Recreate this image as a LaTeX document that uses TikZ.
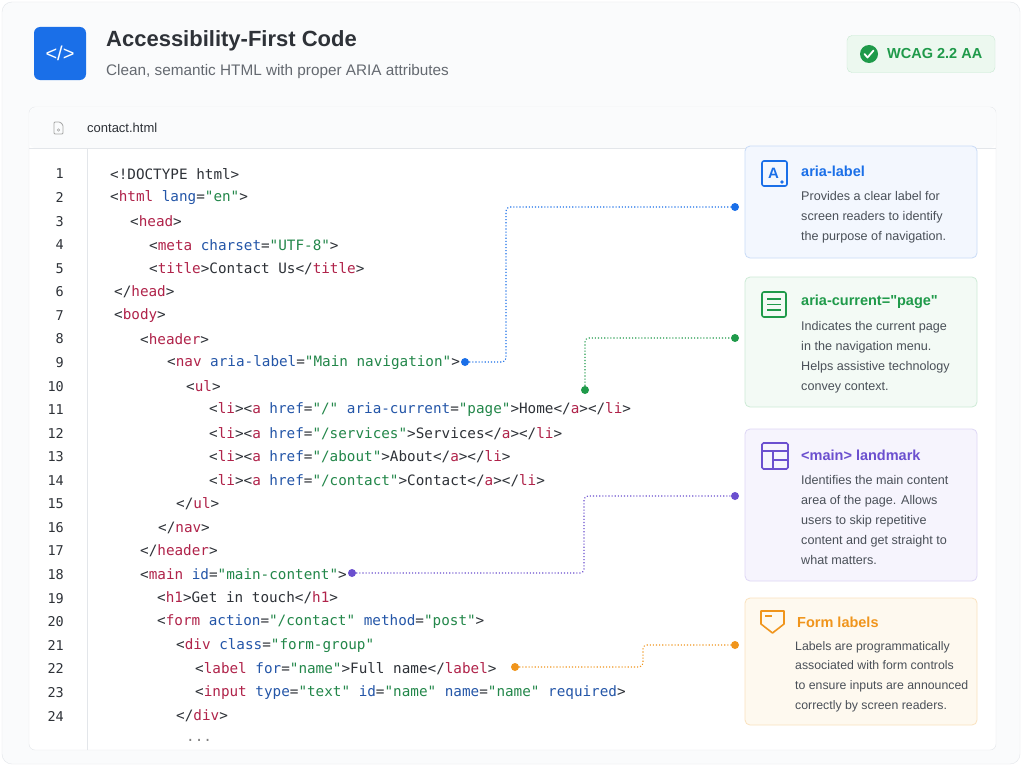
\documentclass[tikz,border=0pt]{standalone}
\usepackage{fontspec}
\setmainfont{Liberation Sans}
\setmonofont{DejaVu Sans Mono}
\begin{document}
\definecolor{cblue}{HTML}{1A6FE8}
\definecolor{cgreen}{HTML}{1F9A4A}
\definecolor{cpurple}{HTML}{6B4FCF}
\definecolor{corange}{HTML}{F0951C}
\definecolor{ctag}{HTML}{B0234A}
\definecolor{cattr}{HTML}{2456A8}
\definecolor{cstr}{HTML}{23874A}
\definecolor{ctext}{HTML}{2E3238}
\definecolor{cbody}{HTML}{4A5058}
\definecolor{cborder}{HTML}{E3E6EA}
\definecolor{cbg}{HTML}{FAFBFC}
\definecolor{csub}{HTML}{646970}
\definecolor{bgbadge}{HTML}{ECF8EF}
\definecolor{bdbadge}{HTML}{C8E8D2}
\definecolor{bd1}{HTML}{C9DBF7}\definecolor{bg1}{HTML}{F3F7FE}
\definecolor{bd2}{HTML}{CDEBD6}\definecolor{bg2}{HTML}{F3FAF5}
\definecolor{bd3}{HTML}{DED7F5}\definecolor{bg3}{HTML}{F6F4FD}
\definecolor{bd4}{HTML}{FAE2BE}\definecolor{bg4}{HTML}{FEF9EF}
\newcommand{\tg}[1]{\textcolor{ctag}{#1}}
\newcommand{\at}[1]{\textcolor{cattr}{#1}}
\newcommand{\st}[1]{\textcolor{cstr}{#1}}
\begin{tikzpicture}[x=1pt,y=-1pt,
  code/.style={anchor=west,inner sep=0pt,font=\ttfamily\fontsize{14.3}{15}\selectfont,text=ctext},
  num/.style={anchor=east,inner sep=0pt,font=\ttfamily\fontsize{13.5}{14}\selectfont,text=ctext},
  card/.style={rounded corners=5pt,line width=0.8pt},
  ctitle/.style={anchor=west,inner sep=0pt,font=\bfseries\fontsize{14.5}{16}\selectfont},
  cbodyt/.style={anchor=north west,inner sep=0pt,align=left,text=cbody,font=\fontsize{12.6}{20}\selectfont},
  conn/.style={line width=1.1pt,dotted,rounded corners=4pt},
  dot/.style={circle,fill,inner sep=0pt,minimum size=8pt}]
\useasboundingbox (0,0) rectangle (1024,768);
\fill[white] (0,0) rectangle (1024,768);
\draw[cborder,fill=cbg,rounded corners=10pt] (2,2) rectangle (1020,764);
% header
\node[fill=cblue,rounded corners=6pt,minimum width=52pt,minimum height=53pt,text=white,font=\fontsize{20}{20}\selectfont] (logo) at (60,53.5) {</>};
\node[anchor=west,inner sep=0pt,font=\bfseries\fontsize{22}{22}\selectfont,text=ctext] (title) at (106,41) {Accessibility-First Code};
\node[anchor=west,inner sep=0pt,font=\fontsize{15.3}{16}\selectfont,text=csub] (sub) at (106,72) {Clean, semantic HTML with proper ARIA attributes};
\node[draw=bdbadge,fill=bgbadge,rounded corners=5pt,minimum width=148pt,minimum height=37pt] (badge) at (921,54) {};
\node[circle,fill=cgreen,minimum size=18pt,inner sep=0pt] (chk) at (869,54) {};
\draw[white,line width=1.8pt,line cap=round,line join=round] (864.5,54) -- (867.5,57.5) -- (873.5,50.5);
\node[anchor=west,inner sep=0pt,font=\bfseries\fontsize{14.5}{15}\selectfont,text=cgreen] (wcag) at (887,54) {WCAG 2.2 AA};
% code card
\draw[cborder,fill=white,rounded corners=6pt] (29,107) rectangle (996,750);
\fill[cbg,rounded corners=6pt] (29.5,107.5) rectangle (995.5,148);
\draw[cborder] (29,148) -- (996,148);
\draw[cborder] (87,148) -- (87,750);
\draw[gray!70,line width=0.8pt,rounded corners=1pt] (54,122) -- (54,134) -- (63,134) -- (63,125) -- (60,122) -- cycle;
\draw[gray!70,line width=0.6pt] (58.5,130) circle (1.2pt);
\node[anchor=west,inner sep=0pt,font=\fontsize{13}{14}\selectfont,text=ctext] (fname) at (87,128) {contact.html};
% line numbers
\foreach \n in {1,...,24}{\node[num] (n\n) at (64,{174+(\n-1)*23.565}) {\n};}
\def\Y#1{{174+(#1-1)*23.565}}
\node[code] (l1) at (110,\Y1) {<!DOCTYPE html>};
\node[code] (l2) at (110,\Y2) {<\tg{html} \at{lang}=\st{"en"}>};
\node[code] (l3) at (130,\Y3) {<\tg{head}>};
\node[code] (l4) at (149,\Y4) {<\tg{meta} \at{charset}=\st{"UTF-8"}>};
\node[code] (l5) at (149,\Y5) {<\tg{title}>Contact Us</\tg{title}>};
\node[code] (l6) at (114,\Y6) {</\tg{head}>};
\node[code] (l7) at (114,\Y7) {<\tg{body}>};
\node[code] (l8) at (140,\Y8) {<\tg{header}>};
\node[code] (l9) at (167,\Y9) {<\tg{nav} \at{aria-label}=\st{"Main navigation"}>};
\node[code] (l10) at (186,\Y{10}) {<\tg{ul}>};
\node[code] (l11) at (209,\Y{11}) {<\tg{li}><\tg{a} \at{href}=\st{"/"} \at{aria-current}=\st{"page"}>Home</\tg{a}></\tg{li}>};
\node[code] (l12) at (209,\Y{12}) {<\tg{li}><\tg{a} \at{href}=\st{"/services"}>Services</\tg{a}></\tg{li}>};
\node[code] (l13) at (209,\Y{13}) {<\tg{li}><\tg{a} \at{href}=\st{"/about"}>About</\tg{a}></\tg{li}>};
\node[code] (l14) at (209,\Y{14}) {<\tg{li}><\tg{a} \at{href}=\st{"/contact"}>Contact</\tg{a}></\tg{li}>};
\node[code] (l15) at (176,\Y{15}) {</\tg{ul}>};
\node[code] (l16) at (158,\Y{16}) {</\tg{nav}>};
\node[code] (l17) at (140,\Y{17}) {</\tg{header}>};
\node[code] (l18) at (140,\Y{18}) {<\tg{main} \at{id}=\st{"main-content"}>};
\node[code] (l19) at (157,\Y{19}) {<\tg{h1}>Get in touch</\tg{h1}>};
\node[code] (l20) at (157,\Y{20}) {<\tg{form} \at{action}=\st{"/contact"} \at{method}=\st{"post"}>};
\node[code] (l21) at (176,\Y{21}) {<\tg{div} \at{class}=\st{"form-group"}};
\node[code] (l22) at (195,\Y{22}) {<\tg{label} \at{for}=\st{"name"}>Full name</\tg{label}>};
\node[code] (l23) at (195,\Y{23}) {<\tg{input} \at{type}=\st{"text"} \at{id}=\st{"name"} \at{name}=\st{"name"} \at{required}>};
\node[code] (l24) at (176,\Y{24}) {</\tg{div}>};
\node[code,text=gray] (l25) at (186,740) {...};
% cards
\draw[card,draw=bd1,fill=bg1] (745,146) rectangle (977,258);
\draw[card,draw=bd2,fill=bg2] (745,277) rectangle (977,407);
\draw[card,draw=bd3,fill=bg3] (745,429) rectangle (977,581);
\draw[card,draw=bd4,fill=bg4] (745,598) rectangle (977,725);
% icons
\draw[cblue,line width=1.6pt,rounded corners=2pt] (762,161) rectangle (787,186);
\node[text=cblue,font=\bfseries\fontsize{15}{15}\selectfont,inner sep=0pt] (iA) at (773.5,173) {A};
\fill[cblue] (782,182) circle (1.8pt);
\draw[cgreen,line width=1.6pt,rounded corners=2pt] (762,292) rectangle (786,317);
\draw[cgreen,line width=1.5pt] (767,299) -- (781,299) (767,304.5) -- (781,304.5) (767,310) -- (781,310);
\draw[cpurple,line width=1.6pt,rounded corners=1.5pt] (762,443) rectangle (788,469);
\draw[cpurple,line width=1.5pt] (762,451) -- (788,451) (773,451) -- (773,469) (773,460) -- (788,460);
\draw[corange,line width=1.6pt,line join=round] (761,611) -- (784,611) -- (784,624) -- (772.5,633) -- (761,624) -- cycle;
\draw[corange,line width=1.2pt] (765,616) -- (772,616);
% card texts
\node[ctitle,text=cblue] (t1) at (801,171) {aria-label};
\node[cbodyt] (b1) at (801,191) {Provides a clear label for\\screen readers to identify\\the purpose of navigation.};
\node[ctitle,text=cgreen] (t2) at (801,302) {aria-current=\textquotedbl page\textquotedbl};
\node[cbodyt] (b2) at (801,321) {Indicates the current page\\in the navigation menu.\\Helps assistive technology\\convey context.};
\node[ctitle,text=cpurple] (t3) at (801,455) {<main> landmark};
\node[cbodyt] (b3) at (801,475) {Identifies the main content\\area of the page. Allows\\users to skip repetitive\\content and get straight to\\what matters.};
\node[ctitle,text=corange] (t4) at (797,622) {Form labels};
\node[cbodyt,font=\fontsize{12.3}{19.7}\selectfont] (b4) at (795,641) {Labels are programmatically\\associated with form controls\\to ensure inputs are announced\\correctly by screen readers.};
% connectors
\node[dot,cblue] (d1a) at (465,362) {};
\node[dot,cblue] (d1b) at (735,207) {};
\draw[conn,cblue] (d1a) -- (506,362) -- (506,207) -- (d1b);
\node[dot,cgreen] (d2a) at (585,390) {};
\node[dot,cgreen] (d2b) at (735,338) {};
\draw[conn,cgreen] (d2a) -- (585,338) -- (d2b);
\node[dot,cpurple] (d3a) at (352,573) {};
\node[dot,cpurple] (d3b) at (735,496) {};
\draw[conn,cpurple] (d3a) -- (584,573) -- (584,496) -- (d3b);
\node[dot,corange] (d4a) at (515,667) {};
\node[dot,corange] (d4b) at (735,645) {};
\draw[conn,corange] (d4a) -- (643,667) -- (643,645) -- (d4b);
\end{tikzpicture}
\end{document}
